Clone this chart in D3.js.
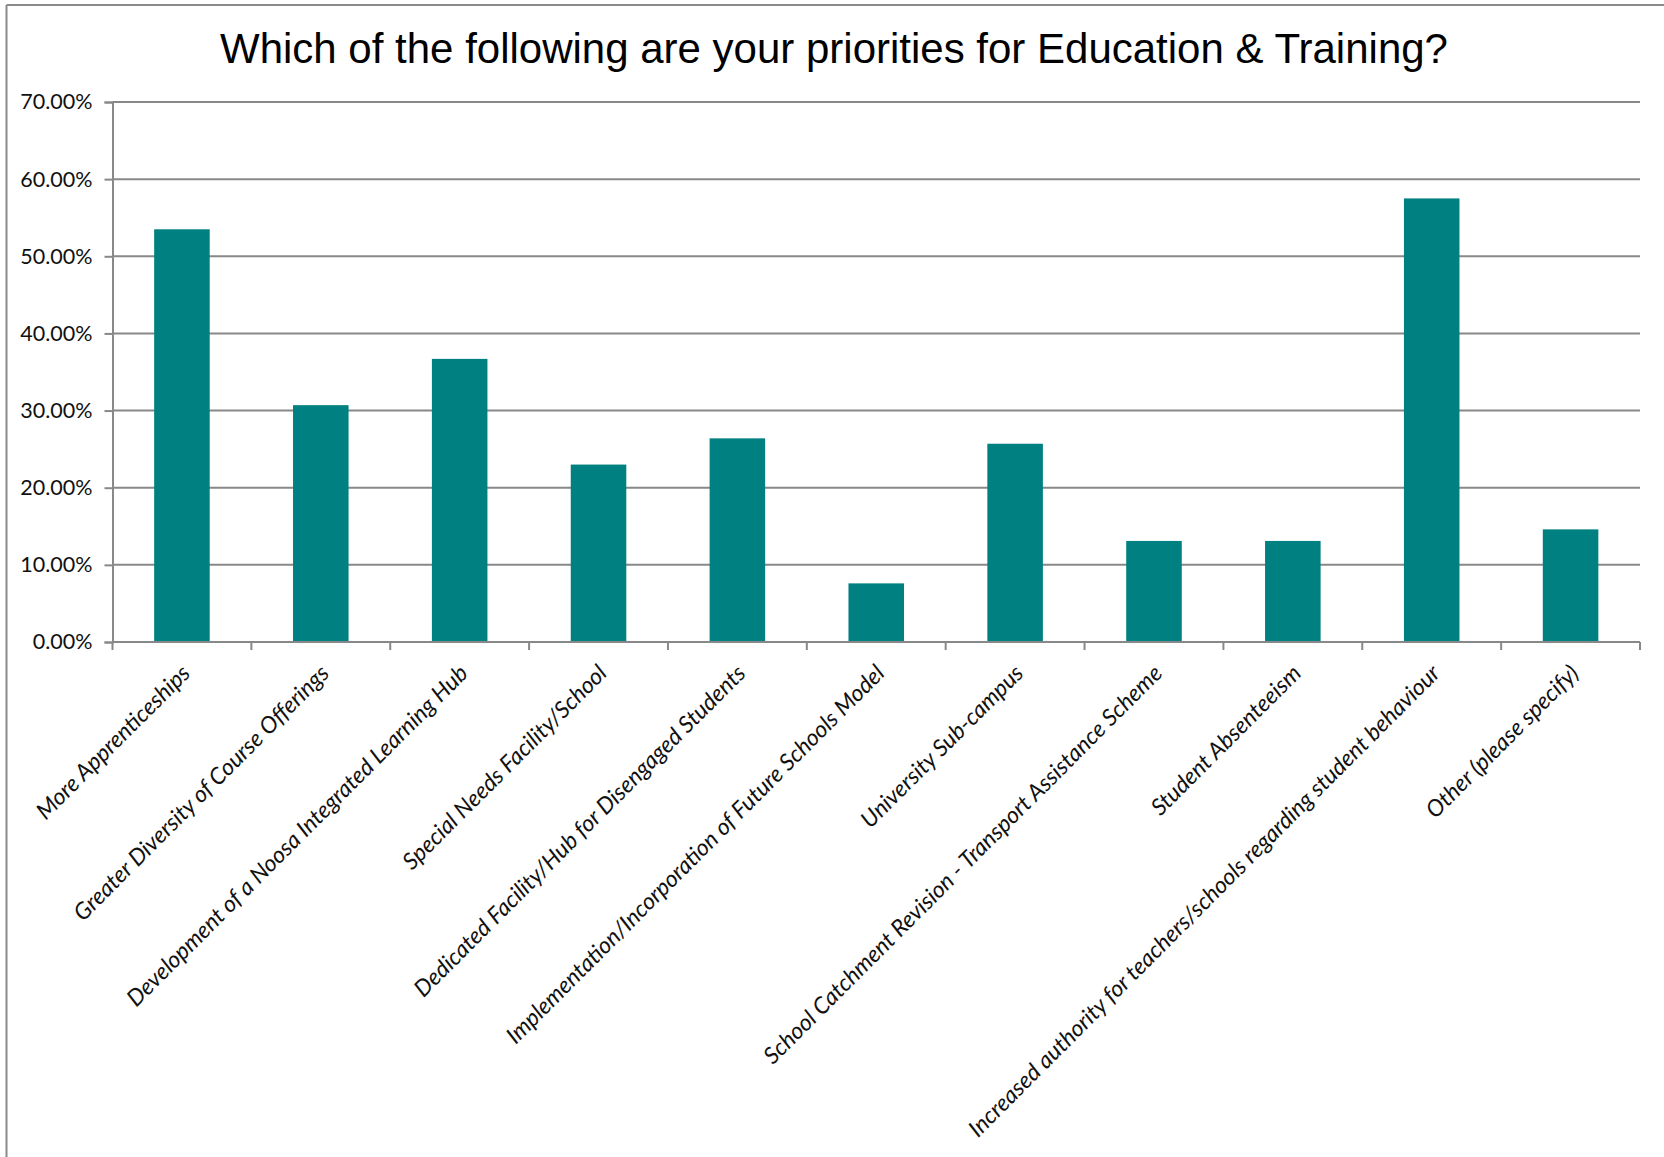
<!DOCTYPE html>
<html>
<head>
<meta charset="utf-8">
<script src="https://cdn.jsdelivr.net/npm/d3@7/dist/d3.min.js"></script>
<style>
  html, body { margin: 0; padding: 0; background: #fff; }
  svg { display: block; }
</style>
</head>
<body>
<svg id="chart" width="1664" height="1157"></svg>
<script>
const titleText = "Which of the following are your priorities for Education & Training?";
const categories = [
  "More Apprenticeships",
  "Greater Diversity of Course Offerings",
  "Development of a Noosa Integrated Learning Hub",
  "Special Needs Facility/School",
  "Dedicated Facility/Hub for Disengaged Students",
  "Implementation/Incorporation of Future Schools Model",
  "University Sub-campus",
  "School Catchment Revision - Transport Assistance Scheme",
  "Student Absenteeism",
  "Increased authority for teachers/schools regarding student behaviour",
  "Other (please specify)"
];
const values = [0.535, 0.307, 0.367, 0.230, 0.264, 0.076, 0.257, 0.131, 0.131, 0.575, 0.146];
const yTicks = [0, 0.1, 0.2, 0.3, 0.4, 0.5, 0.6, 0.7];

const W = 1664, H = 1157;
const margin = { left: 112.5, right: 24, top: 102, bottom: 515 };
const svg = d3.select("#chart");

// frame (top and left edges visible)
svg.append("line").attr("x1", 6.5).attr("x2", W).attr("y1", 5).attr("y2", 5)
  .attr("stroke", "#8a8a8a").attr("stroke-width", 2);
svg.append("line").attr("x1", 6.5).attr("x2", 6.5).attr("y1", 5).attr("y2", H)
  .attr("stroke", "#8a8a8a").attr("stroke-width", 2);

svg.append("text")
  .attr("x", 834).attr("y", 63)
  .attr("text-anchor", "middle")
  .attr("font-family", "'Liberation Sans', Arial, sans-serif")
  .attr("font-size", 42)
  .attr("fill", "#000")
  .text(titleText);

const x = d3.scaleBand().domain(categories)
  .range([margin.left, W - margin.right])
  .paddingInner(0.6).paddingOuter(0.3);
const y = d3.scaleLinear().domain([0, 0.7]).range([H - margin.bottom, margin.top]);

// gridlines
svg.append("g").selectAll("line").data(yTicks.filter(d => d > 0)).join("line")
  .attr("x1", margin.left).attr("x2", W - margin.right)
  .attr("y1", d => y(d)).attr("y2", d => y(d))
  .attr("stroke", "#888").attr("stroke-width", 2);

// bars
svg.append("g").selectAll("rect").data(values).join("rect")
  .attr("x", (d, i) => x(categories[i]))
  .attr("width", x.bandwidth())
  .attr("y", d => y(d))
  .attr("height", d => y(0) - y(d))
  .attr("fill", "#008080");

// y axis
const yAxis = d3.axisLeft(y).tickValues(yTicks).tickSize(8).tickPadding(12)
  .tickFormat(d => (d * 100).toFixed(2) + "%");
const gy = svg.append("g").attr("transform", `translate(${margin.left},0)`).call(yAxis);
gy.select(".domain").attr("stroke", "#888").attr("stroke-width", 2);
gy.selectAll(".tick line").attr("stroke", "#888").attr("stroke-width", 2);
gy.selectAll(".tick text")
  .attr("font-family", "Lato, 'Open Sans', sans-serif")
  .attr("font-size", 21.5).attr("fill", "#111");

// x axis: baseline + ticks at category boundaries
svg.append("line").attr("x1", margin.left).attr("x2", W - margin.right)
  .attr("y1", y(0)).attr("y2", y(0)).attr("stroke", "#888").attr("stroke-width", 2);
svg.append("g").selectAll("line").data(d3.range(categories.length + 1)).join("line")
  .attr("x1", i => margin.left + i * (W - margin.right - margin.left) / categories.length)
  .attr("x2", i => margin.left + i * (W - margin.right - margin.left) / categories.length)
  .attr("y1", y(0)).attr("y2", y(0) + 8)
  .attr("stroke", "#888").attr("stroke-width", 2);

// category labels
svg.append("g").selectAll("text").data(categories).join("text")
  .attr("transform", d => `translate(${x(d) + x.bandwidth() / 2 + 4},${y(0) + 27}) rotate(-45)`)
  .attr("text-anchor", "end")
  .attr("dy", "0.35em")
  .attr("font-family", "Lato, 'Open Sans', sans-serif")
  .attr("font-style", "italic")
  .attr("font-size", 23)
  .attr("fill", "#111")
  .text(d => d);
</script>
</body>
</html>
